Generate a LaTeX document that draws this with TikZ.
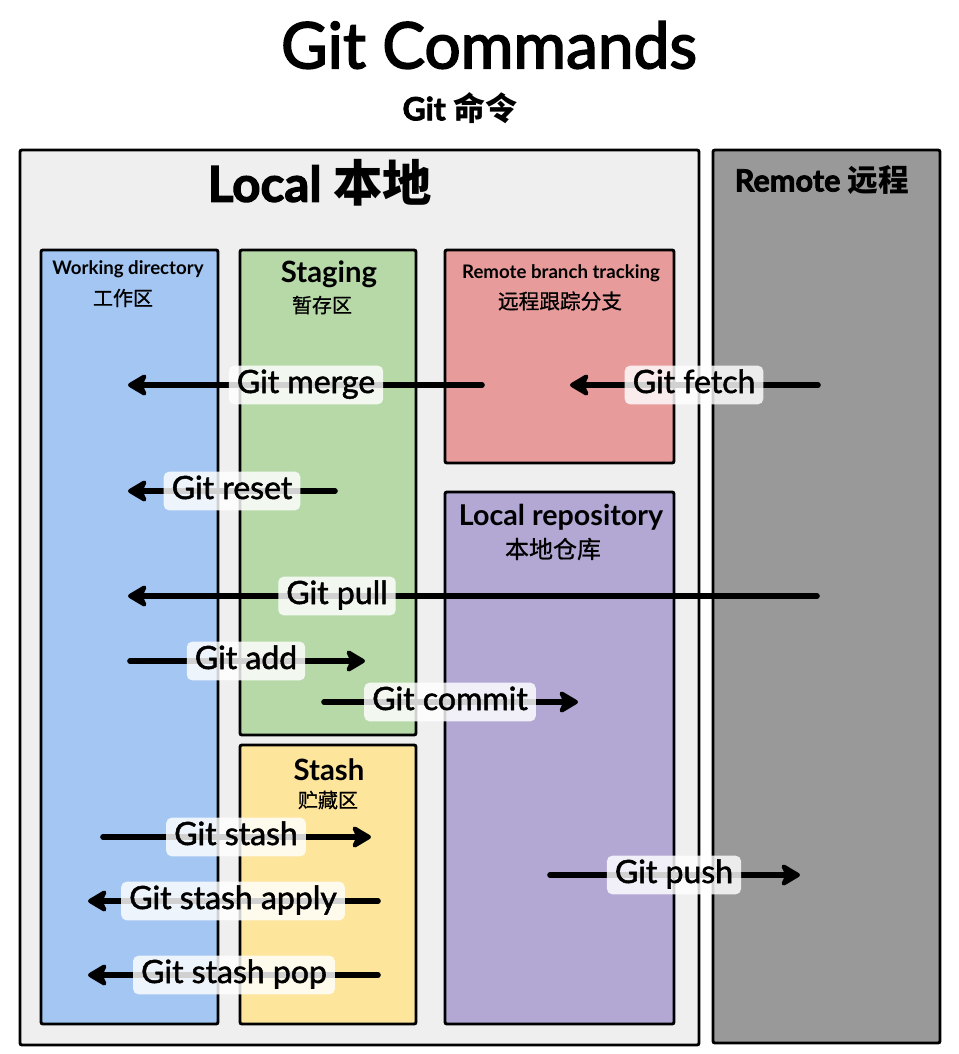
\documentclass[tikz,border=0pt]{standalone}
\usepackage{fontspec}
\setmainfont{Lato}
\newfontfamily\medfont{Lato}[FakeBold=1.6]
\newfontfamily\titlefont{Lato}[FakeBold=2.6]
\newfontfamily\heavy{Lato}[FakeBold=2.4]
\newfontfamily\cjk{Noto Sans CJK SC}
\newfontfamily\cjkmed{Noto Sans CJK SC}[FakeBold=0.8]
\usetikzlibrary{arrows.meta,fit}
\definecolor{localbg}{HTML}{EFEFEF}
\definecolor{remotebg}{HTML}{999999}
\definecolor{wdblue}{HTML}{A3C6F2}
\definecolor{stgreen}{HTML}{B7D9A8}
\definecolor{styellow}{HTML}{FDE59B}
\definecolor{rbpink}{HTML}{E89B9B}
\definecolor{lrpurple}{HTML}{B3A7D4}
\newcommand{\fs}[1]{\fontsize{#1}{#1}\selectfont}
\begin{document}
\begin{tikzpicture}[x=0.75pt,y=-0.75pt,
  area/.style={draw=black, line width=2.2pt, inner sep=0pt, rounded corners=1.5pt},
  cmd/.style={fill=white, fill opacity=0.82, text opacity=1, rounded corners=4pt,
    inner xsep=6pt, inner ysep=3pt, text height=17.5pt, text depth=5.5pt, font=\medfont\fs{24}},
  arr/.style={line width=4.2pt, line cap=round, -{Stealth[length=17pt,width=20pt,inset=4.5pt,round]}},
  head/.style={font=\bfseries\fs{#1}},
  chead/.style={font=\cjkmed\fs{#1}},
]
\useasboundingbox (0,0) rectangle (959,1054);
\fill[white] (0,0) rectangle (959,1054);

% titles
\node[font=\titlefont\fs{48}] (title) at (489,45) {Git Commands};
\node[font=\heavy\bfseries\fs{24}] (subtitle) at (460,108) {Git {\cjk\bfseries 命令}};

% areas
\node[area, fill=localbg, fit={(20,150)(699,1045)}] (local) {};
\node[area, fill=remotebg, fit={(713,150)(940,1043)}] (remote) {};
\node[area, fill=wdblue, fit={(41,250)(218,1024)}] (wd) {};
\node[area, fill=stgreen, fit={(240,250)(416,735)}] (stage) {};
\node[area, fill=styellow, fit={(240,745)(416,1024)}] (stash) {};
\node[area, fill=rbpink, fit={(445,250)(674,463)}] (rbt) {};
\node[area, fill=lrpurple, fit={(445,492)(674,1024)}] (lrepo) {};

% area headings
\node[font=\heavy\bfseries\fs{37}] (localT) at (320,183) {Local {\cjk\bfseries 本地}};
\node[font=\heavy\bfseries\fs{23}] (remoteT) at (822,180) {Remote {\cjk\bfseries 远程}};
\node[head=14] (wdT) at (128,269) {Working directory};
\node[chead=15] (wdC) at (123,298) {工作区};
\node[head=22] (stageT) at (329,274) {Staging};
\node[chead=15] (stageC) at (322,305) {暂存区};
\node[head=14] (rbtT) at (561,273) {Remote branch tracking};
\node[chead=15.5] (rbtC) at (560,301) {远程跟踪分支};
\node[head=21.5] (lrepoT) at (561,517) {Local repository};
\node[chead=18] (lrepoC) at (553,549) {本地仓库};
\node[head=22] (stashT) at (329,770) {Stash};
\node[chead=15] (stashC) at (328,800) {贮藏区};

% arrow end points
\coordinate (mergeA) at (482,385);  \coordinate (mergeB) at (128,385);
\coordinate (fetchA) at (818,385);  \coordinate (fetchB) at (570,385);
\coordinate (resetA) at (335,491);  \coordinate (resetB) at (128,491);
\coordinate (pullA) at (817,596);   \coordinate (pullB) at (128,596);
\coordinate (addA) at (130,661);    \coordinate (addB) at (365,661);
\coordinate (commitA) at (324,702); \coordinate (commitB) at (578,702);
\coordinate (stshA) at (103,837);   \coordinate (stshB) at (371,837);
\coordinate (applyA) at (378,901);  \coordinate (applyB) at (88,901);
\coordinate (popA) at (378,975);    \coordinate (popB) at (88,975);
\coordinate (pushA) at (550,875);   \coordinate (pushB) at (800,875);

\draw[arr] (mergeA) -- (mergeB);
\draw[arr] (fetchA) -- (fetchB);
\draw[arr] (resetA) -- (resetB);
\draw[arr] (pullA) -- (pullB);
\draw[arr] (addA) -- (addB);
\draw[arr] (commitA) -- (commitB);
\draw[arr] (stshA) -- (stshB);
\draw[arr] (applyA) -- (applyB);
\draw[arr] (popA) -- (popB);
\draw[arr] (pushA) -- (pushB);

% command labels
\node[cmd] (merge) at (306,385) {Git merge};
\node[cmd] (fetch) at (694,385) {Git fetch};
\node[cmd] (reset) at (232,491) {Git reset};
\node[cmd] (pull) at (337,596) {Git pull};
\node[cmd] (add) at (246,661) {Git add};
\node[cmd] (commit) at (450,702) {Git commit};
\node[cmd] (stsh) at (236,837) {Git stash};
\node[cmd] (apply) at (233,901) {Git stash apply};
\node[cmd] (pop) at (234,975) {Git stash pop};
\node[cmd] (push) at (674,875) {Git push};
\end{tikzpicture}
\end{document}
